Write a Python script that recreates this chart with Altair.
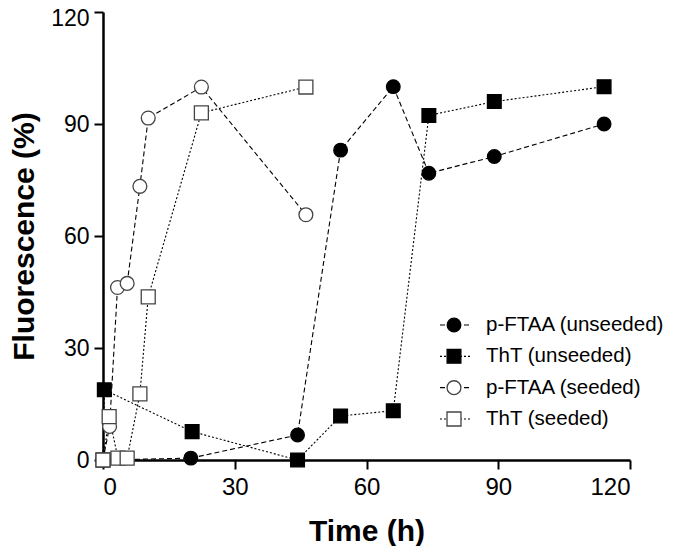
import altair as alt
import pandas as pd

series_names = ["p-FTAA (unseeded)", "ThT (unseeded)", "p-FTAA (seeded)", "ThT (seeded)"]

t_pftaa_u = [0, 20, 44.3, 54.1, 66.1, 74.2, 89.1, 114.1]
y_pftaa_u = [0, 0.5, 6.7, 83, 100, 76.8, 81.3, 90]

t_tht_u = [0, 0.3, 20.3, 44.3, 54.1, 66.1, 74.2, 89.1, 114.1]
y_tht_u = [0, 18.8, 7.6, 0, 11.8, 13.2, 92.3, 96, 100]

t_pftaa_s = [0, 1.5, 3.3, 5.5, 8.4, 10.3, 22.4, 46.2]
y_pftaa_s = [0, 9, 46.2, 47.3, 73.3, 91.6, 99.9, 65.7]

t_tht_s = [0, 1.4, 3.4, 5.5, 8.4, 10.3, 22.4, 46.2]
y_tht_s = [0, 11.6, 0.5, 0.5, 17.7, 43.7, 93, 99.9]

x_ticks = [0, 30, 60, 90, 120]
y_ticks = [0, 30, 60, 90, 120]

rows = []
for name, ts, ys in zip(series_names,
                        [t_pftaa_u, t_tht_u, t_pftaa_s, t_tht_s],
                        [y_pftaa_u, y_tht_u, y_pftaa_s, y_tht_s]):
    for i, (t, y) in enumerate(zip(ts, ys)):
        rows.append({"series": name, "time": t, "fluor": y, "order": i})
df = pd.DataFrame(rows)
legend_df = pd.DataFrame({"series": series_names})

FONT = "Liberation Sans, Arial, Helvetica, sans-serif"

dash_scale = alt.Scale(domain=series_names, range=[[5, 3], [2, 2], [5, 3], [2, 2]])
shape_scale = alt.Scale(domain=series_names, range=["circle", "square", "circle", "square"])
size_scale = alt.Scale(domain=series_names, range=[185, 195, 145, 165])
fill_scale = alt.Scale(domain=series_names, range=["black", "black", "white", "white"])
fillop_scale = alt.Scale(domain=series_names, range=[1, 1, 0, 0])
stroke_scale = alt.Scale(domain=series_names, range=["black", "black", "#444444", "#444444"])

x_enc = alt.X("time:Q", scale=alt.Scale(domain=[0, 120], nice=False),
              axis=alt.Axis(values=x_ticks, title="Time (h)", labelFontSize=24, labelPadding=6,
                            titleBaseline="alphabetic", titleY=80))
y_enc = alt.Y("fluor:Q", scale=alt.Scale(domain=[0, 120], nice=False),
              axis=alt.Axis(values=y_ticks, title="Fluorescence (%)", labelFontSize=23, labelPadding=5,
                            labelOffset=alt.condition("datum.value == 120", alt.value(6), alt.value(0)),
                            titleBaseline="alphabetic", titleX=-70))

lines = alt.Chart(df).mark_line(color="black", strokeWidth=1.1).encode(
    x=x_enc, y=y_enc,
    strokeDash=alt.StrokeDash("series:N", scale=dash_scale, legend=None),
    order="order:Q",
)

point_enc = dict(
    shape=alt.Shape("series:N", scale=shape_scale, legend=None),
    size=alt.Size("series:N", scale=size_scale, legend=None),
    fill=alt.Fill("series:N", scale=fill_scale, legend=None),
    fillOpacity=alt.FillOpacity("series:N", scale=fillop_scale, legend=None),
    stroke=alt.Stroke("series:N", scale=stroke_scale, legend=None),
)

points = alt.Chart(df).mark_point(filled=True, strokeWidth=1.3, opacity=1).encode(
    x=x_enc, y=y_enc, **point_enc
)

main = alt.layer(lines, points)

leg_y = alt.Y("series:N", scale=alt.Scale(type="point", domain=series_names, range=[313, 407], padding=0), axis=None)

leg_rules = alt.Chart(legend_df).mark_rule(color="black", strokeWidth=1.1).encode(
    x=alt.value(337), x2=alt.value(367), y=leg_y,
    strokeDash=alt.StrokeDash("series:N", scale=dash_scale, legend=None),
)
leg_points = alt.Chart(legend_df).mark_point(filled=True, strokeWidth=1.3, opacity=1).encode(
    x=alt.value(351), y=leg_y, **point_enc
)
leg_text = alt.Chart(legend_df).mark_text(align="left", baseline="middle", fontSize=20.5, font=FONT, color="black").encode(
    x=alt.value(383), y=leg_y, text="series:N"
)
legend = alt.layer(leg_rules, leg_points, leg_text)

chart = alt.layer(main, legend).resolve_scale(y="independent").properties(
    width=527, height=448,
    autosize=alt.AutoSizeParams(type="none"),
    padding={"left": 95, "top": 4, "right": 42, "bottom": 86},
).configure_view(stroke=None).configure_axis(
    grid=False,
    domainColor="black", domainWidth=2.5,
    tickColor="black", tickWidth=2, tickSize=9,
    labelFont=FONT, labelColor="black",
    titleFont=FONT, titleFontSize=30, titleFontWeight="bold", titleColor="black",
)

chart.save("out.html", embed_options={"renderer": "svg", "actions": False})
